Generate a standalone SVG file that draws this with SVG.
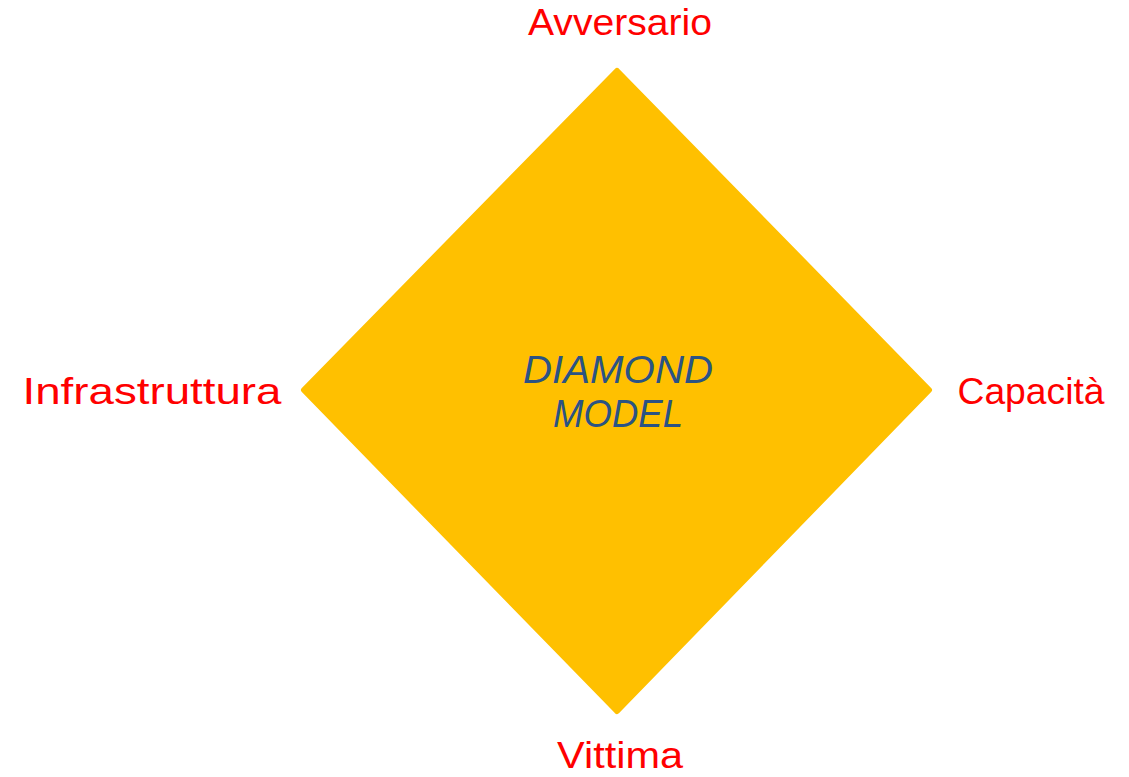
<svg xmlns="http://www.w3.org/2000/svg" width="1129" height="777" viewBox="0 0 1129 777">
<style>
.lbl{font-family:"Liberation Sans","DejaVu Sans",sans-serif;font-size:36px;fill:#FF0000;text-anchor:middle}
.ctr{font-family:"Liberation Sans","DejaVu Sans",sans-serif;font-size:38px;font-style:italic;fill:#2B5384;text-anchor:middle}
</style>
<rect width="1129" height="777" fill="#ffffff"/>
<g id="diamond">
<polygon points="617,71 929,390 617,711 304,390" fill="#FFC000" stroke="#FFC000" stroke-width="6" stroke-linejoin="round"/>
<text class="ctr" x="618" y="383" textLength="190" lengthAdjust="spacingAndGlyphs">DIAMOND</text>
<text class="ctr" x="618" y="427" textLength="130" lengthAdjust="spacingAndGlyphs">MODEL</text>
</g>
<g id="connectors"></g>
<g id="avversario"><text class="lbl" x="620" y="35" textLength="184" lengthAdjust="spacingAndGlyphs">Avversario</text></g>
<g id="infrastruttura"><text class="lbl" x="152" y="404" textLength="259" lengthAdjust="spacingAndGlyphs">Infrastruttura</text></g>
<g id="capacita"><text class="lbl" x="1031" y="404" textLength="147" lengthAdjust="spacingAndGlyphs">Capacità</text></g>
<g id="vittima"><text class="lbl" x="620" y="768" textLength="126" lengthAdjust="spacingAndGlyphs">Vittima</text></g>
</svg>
